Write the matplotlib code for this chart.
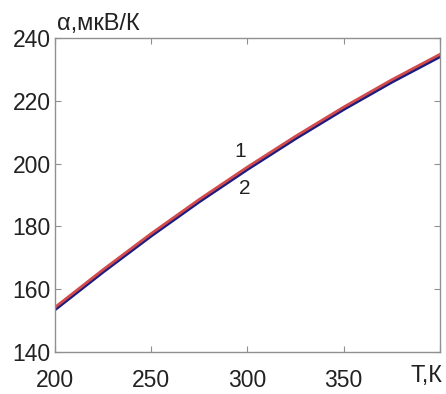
import matplotlib
matplotlib.use('Agg')
import matplotlib.pyplot as plt

plt.rcParams['font.family'] = ['Liberation Sans', 'DejaVu Sans']

# temperature, K
T = [200, 225, 250, 275, 300, 325, 350, 375, 400]
# curve 1 (red) and curve 2 (blue), alpha in uV/K
alpha1 = [154.2, 166.2, 177.7, 188.6, 198.9, 208.7, 218.0, 226.7, 234.8]
alpha2 = [153.5, 165.5, 177.0, 187.9, 198.2, 208.0, 217.3, 226.0, 234.1]

xticks = [200, 250, 300, 350, 400]
xticklabels = ['200', '250', '300', '350', '']
yticks = [140, 160, 180, 200, 220, 240]

fig = plt.figure(figsize=(4.46, 3.94), dpi=100)
ax = fig.add_axes([0.123, 0.1066, 0.8635, 0.797])

ax.plot(T, alpha2, color='#1c1c80', lw=2.4)
ax.plot(T, alpha1, color='#d24a4a', lw=2.0)

ax.set_xlim(200, 400)
ax.set_ylim(140, 240)
ax.set_xticks(xticks)
ax.set_xticklabels(xticklabels)
ax.set_yticks(yticks)

for s in ax.spines.values():
    s.set_color('#909090')
    s.set_linewidth(1.0)
ax.tick_params(direction='in', length=4, color='#909090', top=True, right=True,
               labelsize=16.5, labelcolor='#222222')
ax.tick_params(axis='x', pad=12)
ax.tick_params(axis='y', pad=3)

ax.text(296.5, 203.7, '1', fontsize=15, ha='center', va='center', color='#222222')
ax.text(298.5, 192.2, '2', fontsize=15, ha='center', va='center', color='#222222')

fig.text(57 / 446, 1 - 24 / 394, 'α,мкВ/К', fontsize=17, ha='left', va='center', color='#222222')
fig.text(442 / 446, 1 - 376 / 394, 'Т,К', fontsize=17, ha='right', va='center', color='#222222')

fig.savefig('out.png', dpi=100)
